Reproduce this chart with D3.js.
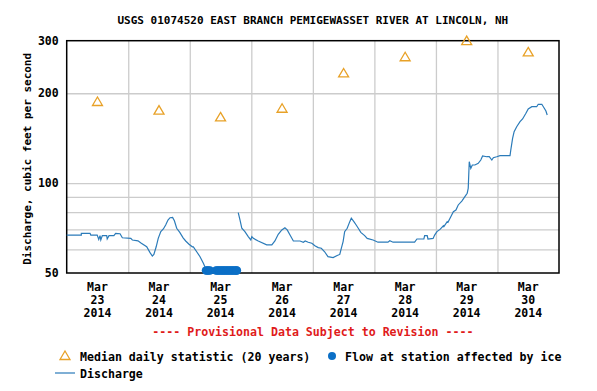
<!DOCTYPE html>
<html>
<head>
<meta charset="utf-8">
<script src="https://cdn.jsdelivr.net/npm/d3@7"></script>
<style>
  html, body { margin: 0; padding: 0; background: #fff; }
  svg text { font-family: "DejaVu Sans Mono", "Liberation Mono", monospace; font-weight: bold; }
</style>
</head>
<body>
<svg id="chart" width="597" height="391"></svg>
<script>
// ---------- DATA ----------
const title = "USGS 01074520 EAST BRANCH PEMIGEWASSET RIVER AT LINCOLN, NH";
const yLabel = "Discharge, cubic feet per second";
const provisionalNote = "---- Provisional Data Subject to Revision ----";
const startTime = "2014-03-23T00:00:00";
const days = ["2014-03-23","2014-03-24","2014-03-25","2014-03-26","2014-03-27","2014-03-28","2014-03-29","2014-03-30"];
const endTime = "2014-03-31T00:00:00";
const yTickLabels = [50, 100, 200, 300];
const yGridValues = [60, 70, 80, 90, 100, 200];

// Median daily statistic (20 years), one per day (plotted at noon)
const medianValues = [187, 175, 166, 177.5, 233, 264, 299, 274];

// Discharge: hours since start, cfs (null = gap while ice-affected)
const dischargeHours = [
  0, 5.7, 5.7, 9.1, 9.4, 11.9, 12.5, 13.0, 13.3, 13.9, 15.6, 15.8, 16.5, 18.4, 19.1, 20.8, 21.7,
  25.0, 25.6, 27.8, 29.1, 31.2, 32.5, 33.4, 34.0, 34.9, 35.7, 36.7, 37.7, 38.6, 39.5, 40.3, 41.3,
  42.0, 42.9, 44.1, 45.4, 46.4, 47.7, 49.0, 49.4, 50.7, 52.0, 53.3, 53.9,
  60.0,
  66.9, 67.6, 68.3, 69.5, 70.8, 71.8, 72.2, 72.8, 74.7, 78.0, 80.0, 81.2, 82.5, 83.9, 85.1, 86.0,
  87.1, 88.4, 91.0, 92.3, 93.0, 94.2, 95.6, 96.8, 98.1, 99.3, 100.6, 101.9, 103.9, 105.5, 106.5,
  107.1, 107.8, 108.4, 109.4, 110.4, 111.0, 112.0, 112.9, 113.9, 114.7, 116.2, 117.2, 119.5, 121.4,
  125.3, 126.0, 127.3, 133.1, 135.7, 136.6, 139.3, 139.6, 140.6, 140.9, 142.9, 143.5, 144.4, 145.6,
  146.9, 147.1, 148.4, 148.7, 149.8, 150.8, 151.8, 152.7, 154.1, 155.3, 156.2, 156.6, 157.0, 157.6,
  158.2, 159.2, 160.5, 161.5, 162.2, 163.8, 164.8, 165.8, 166.4, 167.7, 169.0, 170.9, 172.9, 173.2,
  173.9, 174.5, 175.5, 176.8, 177.8, 179.1, 180.0, 181.4, 183.3, 183.9, 185.3, 185.9, 186.9, 187.4
];
const dischargeValues = [
  67.0, 67.0, 67.9, 67.9, 67.0, 67.0, 64.8, 66.7, 64.5, 66.7, 66.7, 65.0, 66.7, 66.7, 67.9, 67.7, 65.6,
  65.3, 64.5, 64.1, 62.9, 61.2, 58.5, 57.0, 57.7, 61.2, 65.3, 68.8, 70.2, 72.4, 75.2, 76.6, 76.8,
  74.8, 70.6, 68.4, 65.6, 64.0, 62.4, 61.2, 61.2, 58.9, 56.7, 53.9, 52.5,
  null,
  79.6, 75.2, 70.6, 68.8, 66.2, 64.5, 66.2, 65.3, 64.0, 62.1, 62.1, 64.0, 67.4, 69.7, 70.9, 69.7,
  67.0, 64.0, 64.0, 63.4, 64.0, 63.4, 62.9, 61.7, 60.8, 60.5, 58.9, 56.7, 56.3, 57.2, 57.7,
  60.5, 63.7, 68.8, 70.6, 74.3, 76.3, 74.3, 72.4, 70.2, 68.4, 66.7, 65.3, 64.5, 63.4,
  63.4, 64.1, 63.4, 63.4, 63.4, 65.0, 65.0, 66.7, 66.7, 65.0, 65.3, 67.0, 68.8, 70.0,
  72.0, 71.5, 74.3, 73.9, 77.2, 80.2, 81.3, 84.5, 87.1, 90.1, 92.5, 96.1, 118.0, 112.1,
  115.0, 115.0, 116.5, 119.5, 123.3, 122.6, 122.6, 119.5, 121.7, 122.6, 123.6, 123.6, 123.6, 129.1,
  141.3, 148.7, 154.5, 160.6, 164.0, 171.4, 177.2, 180.3, 180.3, 183.7, 183.7, 180.3, 174.5, 169.1
];

// Flow at station affected by ice: hours since start, cfs
const iceHours = [54.3, 54.8, 55.3, 55.9, 58.2, 58.7, 59.2, 59.7, 60.2, 60.7, 61.2, 61.7, 62.2,
  62.7, 63.2, 63.7, 64.2, 64.7, 65.2, 65.7, 66.2, 66.4];
const iceValues = [51, 51, 51, 51, 51, 51, 51, 51, 51, 51, 51, 51, 51, 51, 51, 51, 51, 51, 51, 51, 51, 51];

// ---------- CHART ----------
const svg = d3.select("#chart");
const mLeft = 66.7, mRight = 559, mTop = 40.7, mBottom = 273;
const parse = d3.timeParse("%Y-%m-%dT%H:%M:%S");
const parseDay = d3.timeParse("%Y-%m-%d");
const t0 = parse(startTime);
const hourToDate = h => new Date(t0.getTime() + h * 3600e3);

const x = d3.scaleTime().domain([t0, parse(endTime)]).range([mLeft, mRight]);
const y = d3.scaleLog().domain([50, 300]).range([mBottom, mTop]);

const lineColor = "#2b7bb9", iceColor = "#0b6fc6", medColor = "#e8a127", gridColor = "#cccccc";

// gridlines
const gH = svg.append("g")
  .attr("transform", `translate(${mLeft},0)`)
  .call(d3.axisLeft(y).tickValues(yGridValues).tickSize(-(mRight - mLeft)).tickFormat(""));
gH.select(".domain").remove();
gH.selectAll("line").attr("stroke", gridColor).attr("stroke-width", 1.3);

const dayTicks = days.slice(1).map(parseDay);
const gV = svg.append("g")
  .attr("transform", `translate(0,${mBottom})`)
  .call(d3.axisBottom(x).tickValues(dayTicks).tickSize(-(mBottom - mTop)).tickFormat(""));
gV.select(".domain").remove();
gV.selectAll("line").attr("stroke", gridColor).attr("stroke-width", 1.3);

// frame
svg.append("rect").attr("x", mLeft).attr("y", mTop).attr("width", mRight - mLeft).attr("height", mBottom - mTop)
  .attr("fill", "none").attr("stroke", "#000").attr("stroke-width", 1.5);

// y tick labels
const gY = svg.append("g")
  .attr("transform", `translate(${mLeft},0)`)
  .call(d3.axisLeft(y).tickValues(yTickLabels).tickSize(0).tickPadding(8).tickFormat(d3.format("d")));
gY.select(".domain").remove();
gY.selectAll("text").attr("font-size", 11.5).attr("fill", "#000")
  .style("font-family", '"DejaVu Sans Mono", monospace').style("font-weight", "bold");

// x labels (three lines) at noon
const fmtM = d3.timeFormat("%b"), fmtD = d3.timeFormat("%d"), fmtY = d3.timeFormat("%Y");
const xl = svg.append("g").selectAll("text").data(days.map(parseDay)).join("text")
  .attr("x", d => x(d3.timeHour.offset(d, 12)))
  .attr("text-anchor", "middle").attr("font-size", 11.5).attr("fill", "#000");
xl.append("tspan").attr("x", d => x(d3.timeHour.offset(d, 12))).attr("y", 291).text(d => fmtM(d));
xl.append("tspan").attr("x", d => x(d3.timeHour.offset(d, 12))).attr("y", 304).text(d => fmtD(d));
xl.append("tspan").attr("x", d => x(d3.timeHour.offset(d, 12))).attr("y", 317).text(d => fmtY(d));

// title
svg.append("text").attr("x", (mLeft + mRight) / 2).attr("y", 24).attr("text-anchor", "middle")
  .attr("font-size", 11).attr("fill", "#000").text(title);

// y label
svg.append("text").attr("transform", `translate(31,${(mTop + mBottom) / 2 + 2}) rotate(-90)`)
  .attr("text-anchor", "middle").attr("font-size", 11).attr("fill", "#000").text(yLabel);

// provisional
svg.append("text").attr("x", (mLeft + mRight) / 2).attr("y", 336).attr("text-anchor", "middle")
  .attr("font-size", 11.6).attr("fill", "#e01b1b").text(provisionalNote);

// discharge line
const discharge = dischargeHours.map((h, i) => ({ t: hourToDate(h), v: dischargeValues[i] }));
svg.append("path").datum(discharge)
  .attr("fill", "none").attr("stroke", lineColor).attr("stroke-width", 1.2)
  .attr("d", d3.line().defined(d => d.v != null).x(d => x(d.t)).y(d => y(d.v)));

// ice points
svg.append("g").selectAll("circle").data(iceHours.map((h, i) => ({ t: hourToDate(h), v: iceValues[i] })))
  .join("circle").attr("cx", d => x(d.t)).attr("cy", d => y(d.v)).attr("r", 4.2).attr("fill", iceColor);

// median triangles
const tri = "M0,-5L5,3.5L-5,3.5Z";
svg.append("g").selectAll("path").data(days.map((d, i) => ({ t: d3.timeHour.offset(parseDay(d), 12), v: medianValues[i] })))
  .join("path").attr("d", tri)
  .attr("transform", d => `translate(${x(d.t)},${y(d.v)})`)
  .attr("fill", "none").attr("stroke", medColor).attr("stroke-width", 1.3);

// legend
const lg = svg.append("g");
lg.append("path").attr("d", tri).attr("transform", "translate(65,356)")
  .attr("fill", "none").attr("stroke", medColor).attr("stroke-width", 1.3);
lg.append("text").attr("x", 80).attr("y", 361).attr("font-size", 11.6).attr("fill", "#000")
  .text("Median daily statistic (20 years)");
lg.append("circle").attr("cx", 332).attr("cy", 356).attr("r", 4).attr("fill", iceColor);
lg.append("text").attr("x", 345).attr("y", 361).attr("font-size", 11.6).attr("fill", "#000")
  .text("Flow at station affected by ice");
lg.append("line").attr("x1", 55).attr("x2", 75).attr("y1", 373).attr("y2", 373)
  .attr("stroke", lineColor).attr("stroke-width", 1.2);
lg.append("text").attr("x", 80).attr("y", 378).attr("font-size", 11.6).attr("fill", "#000")
  .text("Discharge");
</script>
</body>
</html>
